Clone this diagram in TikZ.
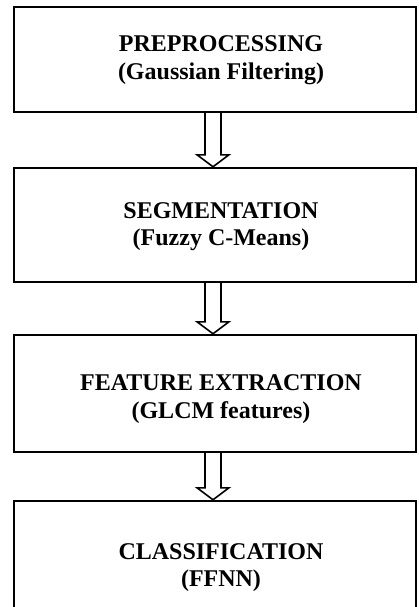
\documentclass[tikz,border=0pt]{standalone}
\usepackage{fontspec}
\setmainfont{Liberation Serif}
\begin{document}
\begin{tikzpicture}[x=1pt,y=-1pt,
  stagebox/.style={draw=black,line width=2.4pt,rectangle,minimum width=402pt,inner sep=0pt},
  stagetext/.style={align=center,inner sep=0pt,font=\fontsize{24}{27.5}\selectfont\bfseries},
  flowarrow/.style={draw=black,line width=1.6pt,line join=miter}]
\useasboundingbox (0,0) rectangle (418,607);
\clip (0,0) rectangle (418,607);

% processing stages
\node[stagebox,minimum height=105pt] (b1) at (215,59.5) {};
\node[stagebox,minimum height=114pt] (b2) at (215,225) {};
\node[stagebox,minimum height=117pt] (b3) at (215,393.5) {};
\node[stagebox,minimum height=125pt] (b4) at (215,563.5) {};

\node[stagetext] (t1) at ([xshift=6pt,yshift=-0.5pt]b1.center) {PREPROCESSING\\(Gaussian Filtering)};
\node[stagetext] (t2) at ([xshift=6pt,yshift=-1.5pt]b2.center) {SEGMENTATION\\(Fuzzy C-Means)};
\node[stagetext] (t3) at ([xshift=6pt,yshift=-5.5pt]b3.center) {FEATURE EXTRACTION\\(GLCM features)};
\node[stagetext] (t4) at ([xshift=6pt,yshift=-4pt]b4.center) {CLASSIFICATION\\(FFNN)};

% hollow block arrows between consecutive stages
\foreach \a/\b in {b1/b2,b2/b3,b3/b4}{
  \coordinate (s) at ([xshift=-2pt]\a.south);
  \coordinate (e) at ([xshift=-2pt]\b.north);
  \draw[flowarrow]
    ([xshift=-8pt]s) -- ([xshift=-8pt,yshift=12pt]e) -- ([xshift=-16pt,yshift=12pt]e)
    -- (e) -- ([xshift=16pt,yshift=12pt]e) -- ([xshift=8pt,yshift=12pt]e) -- ([xshift=8pt]s);
}
\end{tikzpicture}
\end{document}
